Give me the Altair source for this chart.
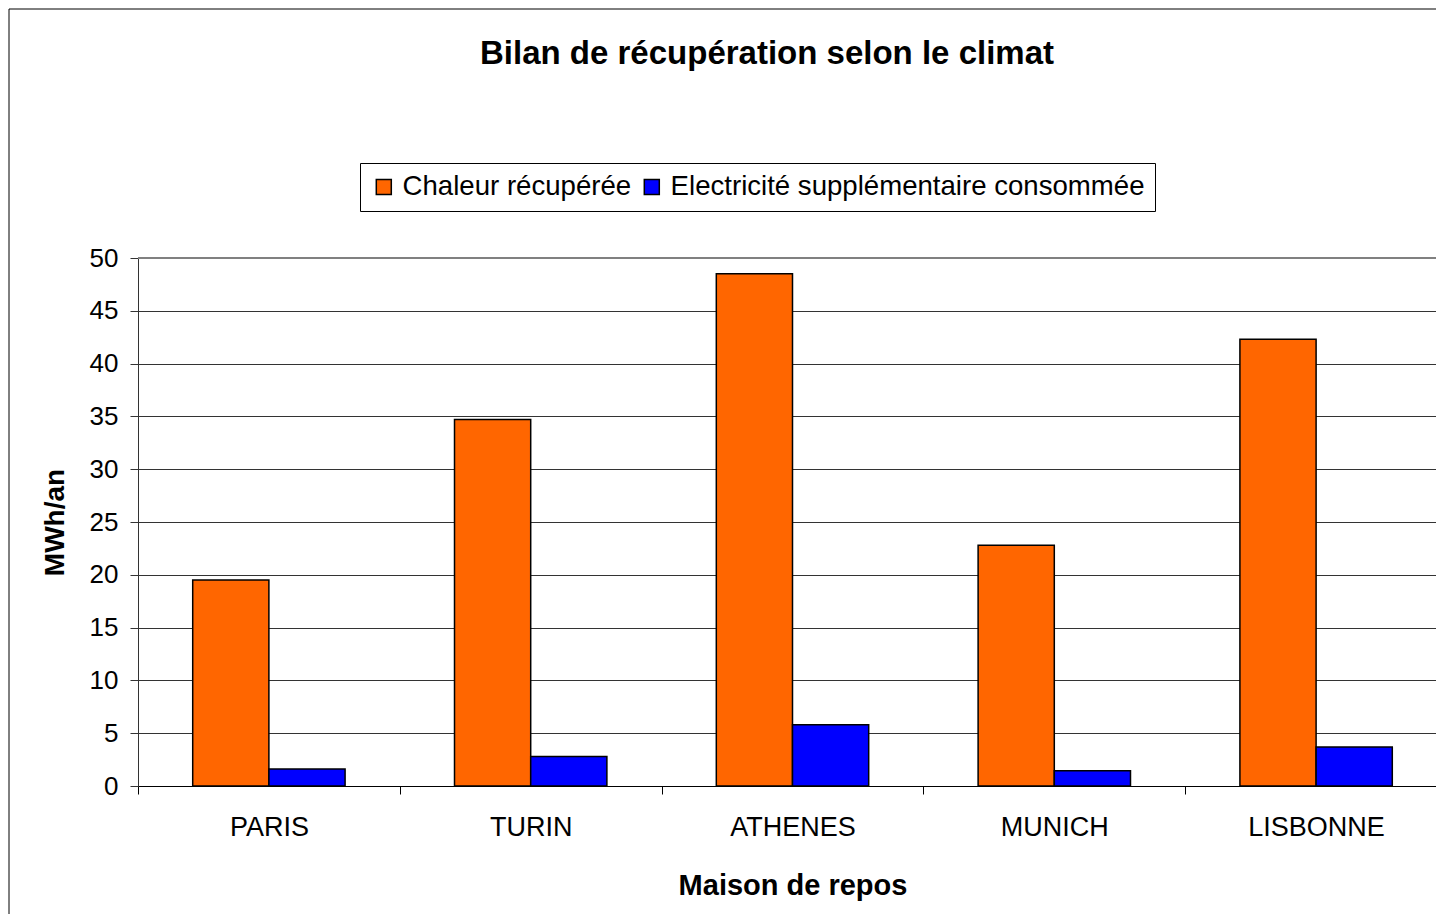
import altair as alt
import pandas as pd

cities = ["PARIS", "TURIN", "ATHENES", "MUNICH", "LISBONNE"]
series = ["Chaleur récupérée", "Electricité supplémentaire consommée"]
chaleur = [19.5, 34.7, 48.5, 22.8, 42.3]
electricite = [1.6, 2.8, 5.8, 1.45, 3.7]
colors = ["#FF6600", "#0000FF"]
title_text = "Bilan de récupération selon le climat"

rows = []
for c, a, b in zip(cities, chaleur, electricite):
    rows.append({"ville": c, "serie": series[0], "val": a})
    rows.append({"ville": c, "serie": series[1], "val": b})
df = pd.DataFrame(rows)

FONT = "Liberation Sans"
W, H = 1298, 528
XR = 1309  # band range (last band partly beyond the page edge, as in the original)

bars = alt.Chart(df).mark_bar(stroke="black", strokeWidth=1.5).encode(
    x=alt.X("ville:N", sort=cities,
            scale=alt.Scale(paddingInner=0, paddingOuter=0, range=[0, XR]),
            axis=alt.Axis(title="Maison de repos", labelAngle=0, tickBand="extent",
                          labelFontSize=27, labelFont=FONT, labelColor="black",
                          labelPadding=20, tickSize=8, tickColor="black",
                          domainColor="black", titleFontSize=29, titleFont=FONT,
                          titleFontWeight="bold", titlePadding=31, titleColor="black")),
    xOffset=alt.XOffset("serie:N", sort=series,
                        scale=alt.Scale(paddingInner=0, paddingOuter=0.718)),
    y=alt.Y("val:Q", scale=alt.Scale(domain=[0, 50], nice=False),
            axis=alt.Axis(title="MWh/an", values=list(range(0, 51, 5)),
                          labelFontSize=26, labelFont=FONT, labelColor="black",
                          labelPadding=12, tickSize=8, tickColor="#333333",
                          domainColor="#333333", gridColor="#333333", gridWidth=1,
                          titleFontSize=28, titleFont=FONT, titleFontWeight="bold",
                          titlePadding=20, titleColor="black")),
    color=alt.Color("serie:N", sort=series,
                    scale=alt.Scale(domain=series, range=colors),
                    legend=alt.Legend(title=None, orient="none", legendX=222, legendY=-95,
                                      direction="horizontal", strokeColor="black",
                                      fillColor="white", padding=10,
                                      symbolType="square", symbolSize=225,
                                      symbolStrokeColor="black", symbolStrokeWidth=1.5,
                                      symbolOpacity=1,
                                      labelFontSize=27.6, labelFont=FONT, labelColor="black",
                                      labelLimit=0, labelOffset=5, columnPadding=6)),
)

frame = alt.Chart(pd.DataFrame({"k": [0]})).mark_rect(
    fillOpacity=0, stroke="black", strokeWidth=1
).encode(
    x=alt.value(-129), x2=alt.value(W + 200),
    y=alt.value(-249), y2=alt.value(H + 300),
)

top_line = alt.Chart(pd.DataFrame({"k": [0]})).mark_rule(
    color="#808080", strokeWidth=2
).encode(
    x=alt.value(0), x2=alt.value(W + 20), y=alt.value(0)
)

title = alt.Chart(pd.DataFrame({"t": [title_text]})).mark_text(
    font=FONT, fontSize=33, fontWeight="bold", color="black",
    align="center", baseline="middle"
).encode(
    x=alt.value(629), y=alt.value(-204), text="t:N"
)

chart = alt.layer(bars, top_line, frame, title).properties(
    width=W, height=H,
    padding={"left": 130, "top": 250, "right": 0, "bottom": 128},
    autosize=alt.AutoSizeParams(type="none"),
).configure_view(
    fill="#C0C0C0", stroke="transparent"
).configure(background="white")

chart.save("out.html", embed_options={"renderer": "svg", "actions": False})
